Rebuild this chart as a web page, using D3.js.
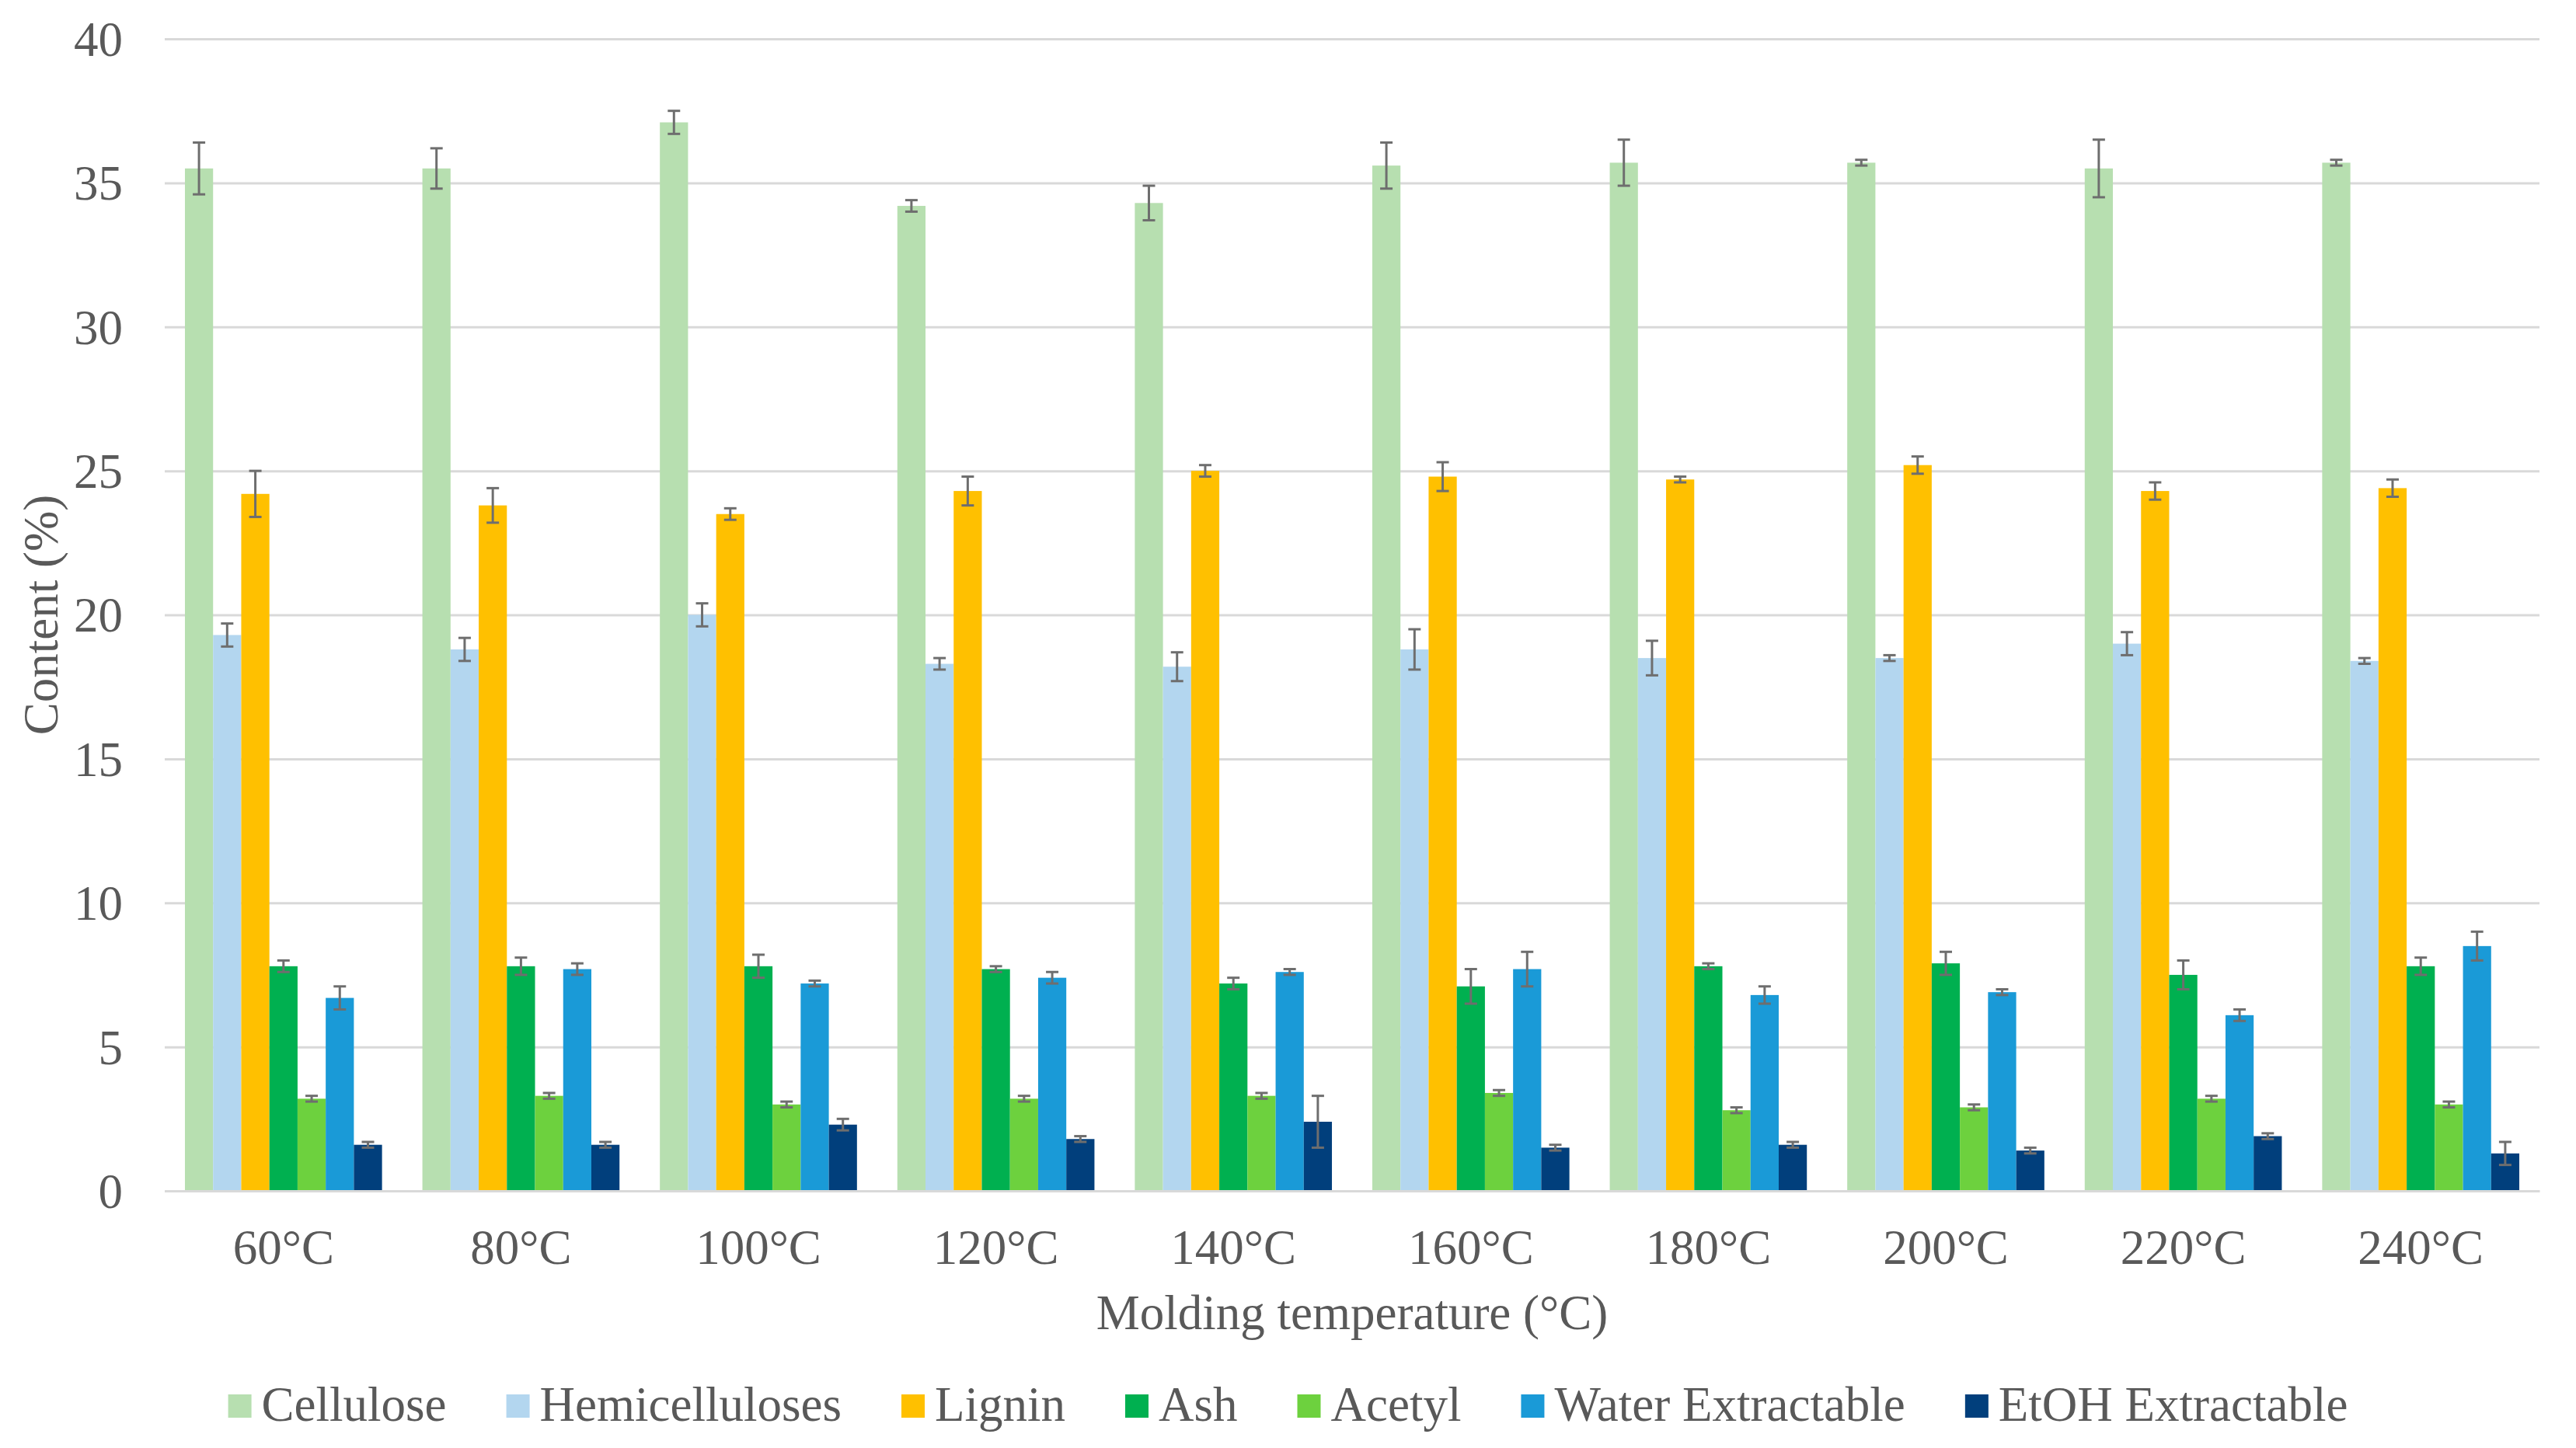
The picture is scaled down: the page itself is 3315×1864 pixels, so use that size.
<html>

<head>
  <script src="https://d3js.org/d3.v7.min.js"></script>
</head>

<style>
  body {
    margin: 0;
    background: white;
  }

  text {
    font-family: "Liberation Serif", "Times New Roman", serif;
    fill: #595959;
  }

  .grid line {
    stroke: #d9d9d9;
    stroke-width: 3px;
  }

  .errbar {
    stroke: #6e6e6e;
    stroke-width: 3px;
  }
</style>

<body>

  <svg id="chart" height="1864" width="3315"></svg>

  <script>

    // values
    const categories = ["60°C", "80°C", "100°C", "120°C", "140°C", "160°C", "180°C", "200°C", "220°C", "240°C"];
    const seriesNames = ["Cellulose", "Hemicelluloses", "Lignin", "Ash", "Acetyl", "Water Extractable", "EtOH Extractable"];
    const yTicks = [0, 5, 10, 15, 20, 25, 30, 35, 40];

    const cellulose = [35.5, 35.5, 37.1, 34.2, 34.3, 35.6, 35.7, 35.7, 35.5, 35.7];
    const celluloseErr = [0.9, 0.7, 0.4, 0.2, 0.6, 0.8, 0.8, 0.1, 1.0, 0.1];
    const hemicelluloses = [19.3, 18.8, 20.0, 18.3, 18.2, 18.8, 18.5, 18.5, 19.0, 18.4];
    const hemicellulosesErr = [0.4, 0.4, 0.4, 0.2, 0.5, 0.7, 0.6, 0.1, 0.4, 0.1];
    const lignin = [24.2, 23.8, 23.5, 24.3, 25.0, 24.8, 24.7, 25.2, 24.3, 24.4];
    const ligninErr = [0.8, 0.6, 0.2, 0.5, 0.2, 0.5, 0.1, 0.3, 0.3, 0.3];
    const ash = [7.8, 7.8, 7.8, 7.7, 7.2, 7.1, 7.8, 7.9, 7.5, 7.8];
    const ashErr = [0.2, 0.3, 0.4, 0.1, 0.2, 0.6, 0.1, 0.4, 0.5, 0.3];
    const acetyl = [3.2, 3.3, 3.0, 3.2, 3.3, 3.4, 2.8, 2.9, 3.2, 3.0];
    const acetylErr = [0.1, 0.1, 0.1, 0.1, 0.1, 0.1, 0.1, 0.1, 0.1, 0.1];
    const waterExtr = [6.7, 7.7, 7.2, 7.4, 7.6, 7.7, 6.8, 6.9, 6.1, 8.5];
    const waterExtrErr = [0.4, 0.2, 0.1, 0.2, 0.1, 0.6, 0.3, 0.1, 0.2, 0.5];
    const etohExtr = [1.6, 1.6, 2.3, 1.8, 2.4, 1.5, 1.6, 1.4, 1.9, 1.3];
    const etohExtrErr = [0.1, 0.1, 0.2, 0.1, 0.9, 0.1, 0.1, 0.1, 0.1, 0.4];

    const colors = ["#b7dfb0", "#b3d6ef", "#ffc000", "#00b050", "#6dd13e", "#1a9ad7", "#013f7c"];

    const values = [cellulose, hemicelluloses, lignin, ash, acetyl, waterExtr, etohExtr];
    const errors = [celluloseErr, hemicellulosesErr, ligninErr, ashErr, acetylErr, waterExtrErr, etohExtrErr];

    // flatten to one row per bar
    const bars = [];
    categories.forEach((cat, i) => {
      seriesNames.forEach((s, j) => {
        bars.push({ cat, series: s, idx: j, value: values[j][i], err: errors[j][i] });
      });
    });

    const serif = "'Liberation Serif', 'Times New Roman', serif";
    const svg = d3.select("svg#chart");
    const width = +svg.attr("width");
    const margin = { top: 50, right: 47, left: 212 };
    const plotLeft = margin.left;
    const plotRight = width - margin.right;
    const plotTop = margin.top;
    const plotBottom = 1533;
    const plotWidth = plotRight - plotLeft;

    svg.append("rect").attr("width", width).attr("height", 1864).attr("fill", "white");

    const x0 = d3.scaleBand().domain(categories).range([plotLeft, plotRight])
      .paddingInner(0.17).paddingOuter(0.085);
    const x1 = d3.scaleBand().domain(seriesNames).range([0, x0.bandwidth()]);
    const yScale = d3.scaleLinear().domain([0, 40]).range([plotBottom, plotTop]);

    // gridlines + y labels
    const leftAxis = d3.axisLeft(yScale)
      .tickValues(yTicks)
      .tickSizeInner(-plotWidth)
      .tickSizeOuter(0)
      .tickPadding(54);
    const gy = svg.append("g")
      .attr("class", "grid")
      .attr("transform", `translate(${plotLeft},0)`)
      .call(leftAxis);
    gy.select(".domain").remove();
    gy.selectAll("text")
      .attr("font-size", 63)
      .attr("dy", "0.34em")
      .style("font-family", serif)
      .style("fill", "#595959");

    // bars
    svg.append("g").selectAll("rect")
      .data(bars)
      .join("rect")
      .attr("x", d => x0(d.cat) + x1(d.series))
      .attr("y", d => yScale(d.value))
      .attr("width", x1.bandwidth())
      .attr("height", d => yScale(0) - yScale(d.value))
      .attr("fill", d => colors[d.idx]);

    // error bars
    const capHalf = 8;
    const eb = svg.append("g").selectAll("g")
      .data(bars)
      .join("g")
      .attr("class", "errbar");
    const cx = d => x0(d.cat) + x1(d.series) + x1.bandwidth() / 2;
    eb.append("line")
      .attr("x1", cx).attr("x2", cx)
      .attr("y1", d => yScale(d.value + d.err))
      .attr("y2", d => yScale(d.value - d.err));
    eb.append("line")
      .attr("x1", d => cx(d) - capHalf).attr("x2", d => cx(d) + capHalf)
      .attr("y1", d => yScale(d.value + d.err))
      .attr("y2", d => yScale(d.value + d.err));
    eb.append("line")
      .attr("x1", d => cx(d) - capHalf).attr("x2", d => cx(d) + capHalf)
      .attr("y1", d => yScale(d.value - d.err))
      .attr("y2", d => yScale(d.value - d.err));

    // x axis
    const bottomAxis = d3.axisBottom(x0).tickSize(0).tickPadding(49);
    const gx = svg.append("g")
      .attr("transform", `translate(0,${plotBottom})`)
      .call(bottomAxis);
    gx.select(".domain").attr("stroke", "#d9d9d9").attr("stroke-width", 3);
    gx.selectAll("text")
      .attr("font-size", 63)
      .style("font-family", serif)
      .style("fill", "#595959");

    // axis titles
    svg.append("text")
      .attr("x", (plotLeft + plotRight) / 2)
      .attr("y", 1711)
      .attr("text-anchor", "middle")
      .attr("font-size", 63)
      .style("font-family", serif)
      .text("Molding temperature (°C)");

    svg.append("text")
      .attr("transform", `translate(74,${(plotTop + plotBottom) / 2}) rotate(-90)`)
      .attr("text-anchor", "middle")
      .attr("font-size", 63)
      .style("font-family", serif)
      .text("Content (%)");

    // legend
    const legend = svg.append("g");
    const sq = 30, gapText = 13, gapItem = 77;
    let lx = 0;
    seriesNames.forEach((s, j) => {
      const item = legend.append("g").attr("transform", `translate(${lx},0)`);
      item.append("rect")
        .attr("x", 0).attr("y", 1795)
        .attr("width", sq).attr("height", sq)
        .attr("fill", colors[j]);
      const t = item.append("text")
        .attr("x", sq + gapText).attr("y", 1829)
        .attr("font-size", 63)
        .style("font-family", serif)
        .text(s);
      lx += sq + gapText + t.node().getComputedTextLength() + gapItem;
    });
    const legendWidth = lx - gapItem;
    legend.attr("transform", `translate(${(width - legendWidth) / 2},0)`);

  </script>

</body>

</html>
